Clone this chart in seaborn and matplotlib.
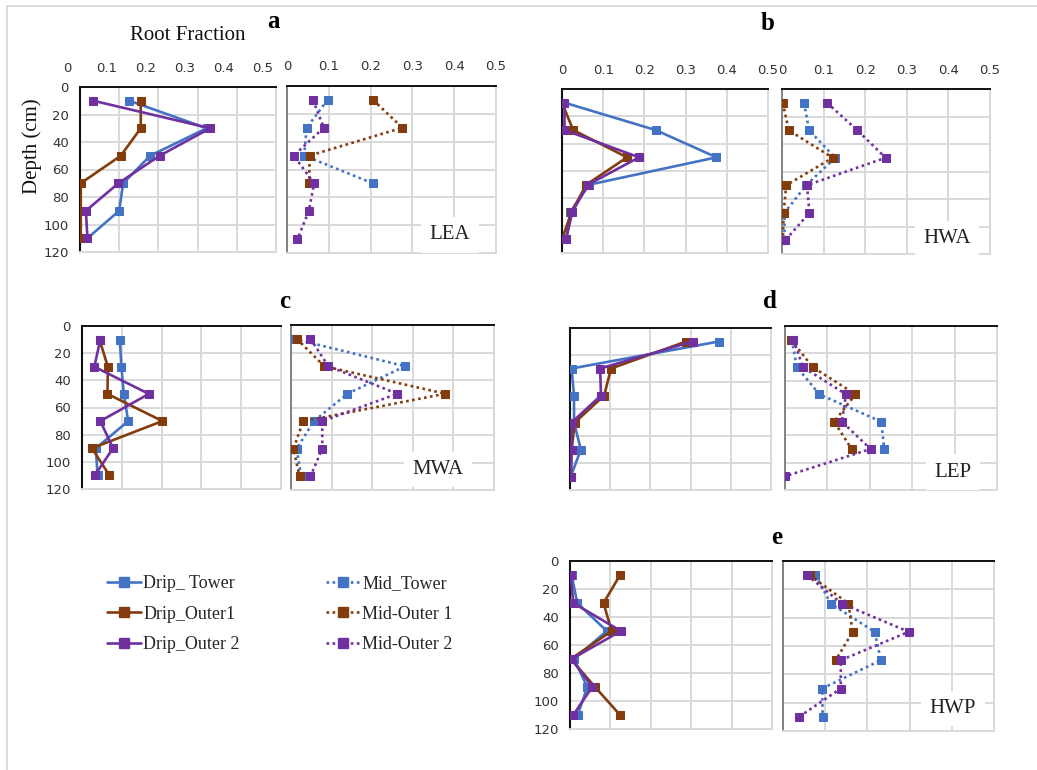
import matplotlib
matplotlib.use("Agg")
import matplotlib.pyplot as plt
import matplotlib.transforms as mtransforms
from matplotlib.lines import Line2D
import seaborn as sns
import pandas as pd

# ---------------- data ----------------
DEPTH = [10, 30, 50, 70, 90, 110]
XTICKS = [0, 0.1, 0.2, 0.3, 0.4, 0.5]
XTICKLABELS = ["0", "0.1", "0.2", "0.3", "0.4", "0.5"]
YTICKS = [0, 20, 40, 60, 80, 100, 120]

DRIP_NAMES = ["Drip_ Tower", "Drip_Outer1", "Drip_Outer 2"]
MID_NAMES = ["Mid_Tower", "Mid-Outer 1", "Mid-Outer 2"]
COLORS = ["#4472C4", "#843C0C", "#7030A0"]

LEA_DRIP = {"Drip_ Tower": [0.126, 0.323, 0.179, 0.110, 0.100, 0.019],
            "Drip_Outer1": [0.155, 0.155, 0.104, 0.002, 0.002, 0.002],
            "Drip_Outer 2": [0.034, 0.332, 0.203, 0.098, 0.015, 0.019]}
LEA_MID = {"Mid_Tower": [0.097, 0.047, 0.041, 0.206],
           "Mid-Outer 1": [0.206, 0.276, 0.054, 0.053],
           "Mid-Outer 2": [0.062, 0.088, 0.016, 0.065, 0.052, 0.025]}

HWA_DRIP = {"Drip_ Tower": [0.006, 0.227, 0.375, 0.066, 0.020, 0.010],
            "Drip_Outer1": [0.000, 0.027, 0.158, 0.059, 0.023, 0.000],
            "Drip_Outer 2": [0.006, 0.006, 0.187, 0.063, 0.025, 0.010]}
HWA_MID = {"Mid_Tower": [0.053, 0.065, 0.128, 0.058, 0.006, 0.006],
           "Mid-Outer 1": [0.002, 0.016, 0.122, 0.010, 0.004, 0.002],
           "Mid-Outer 2": [0.108, 0.181, 0.249, 0.060, 0.066, 0.008]}

MWA_DRIP = {"Drip_ Tower": [0.095, 0.099, 0.105, 0.116, 0.035, 0.039],
            "Drip_Outer1": [0.044, 0.065, 0.064, 0.202, 0.025, 0.069],
            "Drip_Outer 2": [0.046, 0.031, 0.168, 0.046, 0.078, 0.032]}
MWA_MID = {"Mid_Tower": [0.007, 0.281, 0.139, 0.056, 0.014, 0.025],
           "Mid-Outer 1": [0.014, 0.082, 0.380, 0.030, 0.006, 0.021],
           "Mid-Outer 2": [0.048, 0.092, 0.262, 0.077, 0.077, 0.048]}

LEP_DRIP = {"Drip_ Tower": [0.370, 0.004, 0.010, 0.010, 0.027, 0.002],
            "Drip_Outer1": [0.289, 0.102, 0.085, 0.012, 0.004, 0.002],
            "Drip_Outer 2": [0.305, 0.075, 0.077, 0.004, 0.004, 0.002]}
LEP_MID = {"Mid_Tower": [0.016, 0.028, 0.081, 0.227, 0.234],
           "Mid-Outer 1": [0.014, 0.065, 0.166, 0.116, 0.157],
           "Mid-Outer 2": [0.020, 0.042, 0.144, 0.134, 0.202, 0.000]}

HWP_DRIP = {"Drip_ Tower": [0.004, 0.018, 0.091, 0.010, 0.043, 0.019],
            "Drip_Outer1": [0.124, 0.083, 0.103, 0.002, 0.062, 0.124],
            "Drip_Outer 2": [0.002, 0.008, 0.126, 0.004, 0.055, 0.008]}
HWP_MID = {"Mid_Tower": [0.077, 0.113, 0.217, 0.232, 0.093, 0.094],
           "Mid-Outer 1": [0.063, 0.155, 0.165, 0.125],
           "Mid-Outer 2": [0.057, 0.139, 0.298, 0.137, 0.137, 0.038]}

# ---------------- style ----------------
sns.set_style("white")
plt.rcParams["font.family"] = ["DejaVu Sans"]
SERIF = ["Liberation Serif", "DejaVu Serif"]

W, H = 1037, 770
fig = plt.figure(figsize=(W / 100, H / 100), dpi=100)


def px(x, y):
    return x / W, 1 - y / H


def add_ax(x0, y0, x1, y1):
    return fig.add_axes([x0 / W, 1 - y1 / H, (x1 - x0) / W, (y1 - y0) / H])


def draw(ax, data, names, dotted):
    for name, color in zip(names, COLORS):
        vals = data[name]
        df = pd.DataFrame({"frac": vals, "depth": DEPTH[:len(vals)]})
        sns.lineplot(data=df, x="frac", y="depth", ax=ax, color=color,
                     marker="s", markersize=6, markeredgecolor=color,
                     linewidth=1.9, linestyle=(0, (1, 1.3)) if dotted else "-",
                     sort=False, estimator=None, legend=False, zorder=3)


def style(ax, xlab, ylab, drip, xoff=0):
    ax.set_xlim(0, 0.5)
    ax.set_ylim(120, 0)
    ax.set_xticks(XTICKS)
    ax.set_xticklabels(XTICKLABELS)
    ax.set_yticks(YTICKS)
    ax.set_xlabel("")
    ax.set_ylabel("")
    ax.grid(True, color="#d9d9d9", lw=1.4)
    ax.set_axisbelow(True)
    ax.xaxis.tick_top()
    ax.tick_params(length=0, labelsize=9.5, colors="#333333")
    ax.tick_params(axis="x", pad=9, labeltop=xlab, labelbottom=False)
    ax.tick_params(axis="y", pad=8, labelleft=ylab)
    ax.spines["top"].set_color("#111111")
    ax.spines["top"].set_linewidth(1.4)
    ax.spines["left"].set_color("#111111" if drip else "#707070")
    ax.spines["left"].set_linewidth(1.5 if drip else 1.2)
    for s in ("right", "bottom"):
        ax.spines[s].set_color("#d9d9d9")
        ax.spines[s].set_linewidth(1.4)
    if xoff:
        off = mtransforms.ScaledTranslation(xoff / 100, 0, fig.dpi_scale_trans)
        for lab in ax.get_xticklabels():
            lab.set_transform(lab.get_transform() + off)


def site_label(ax, text, x, y):
    ax.text(x, y, text, ha="center", va="center", fontsize=15,
            family=SERIF, color="#222222", zorder=4,
            bbox=dict(facecolor="white", edgecolor="none", pad=6))


panels = [
    (LEA_DRIP, LEA_MID, "LEA", (80, 87, 276, 252), (287, 86, 496, 253), True, True, -13, (0.39, 107)),
    (HWA_DRIP, HWA_MID, "HWA", (562, 89, 768, 253), (782, 89, 990, 254), True, False, 0, (0.397, 109)),
    (MWA_DRIP, MWA_MID, "MWA", (82, 326, 281, 489), (291, 325, 494, 490), False, True, 0, (0.362, 105)),
    (LEP_DRIP, LEP_MID, "LEP", (570, 328, 771, 490), (785, 326, 997, 490), False, False, 0, (0.396, 107)),
    (HWP_DRIP, HWP_MID, "HWP", (570, 561, 772, 729), (783, 561, 994, 731), False, True, 0, (0.403, 104)),
]

for drip, mid, lab, bd, bm, xl, yl, xoff, lpos in panels:
    ax1 = add_ax(*bd)
    draw(ax1, drip, DRIP_NAMES, False)
    style(ax1, xl, yl, True, xoff)
    ax2 = add_ax(*bm)
    draw(ax2, mid, MID_NAMES, True)
    style(ax2, xl, False, False)
    site_label(ax2, lab, *lpos)

# titles and panel letters
fig.text(*px(188, 36), "Root Fraction", ha="center", va="center",
         fontsize=15, family=SERIF, color="#111111")
fig.text(*px(32, 146), "Depth (cm)", ha="center", va="center", rotation=90,
         fontsize=15, family=SERIF, color="#111111")
for letter, (x, y) in {"a": (274, 21), "b": (768, 24), "c": (285, 302),
                       "d": (770, 302), "e": (777, 537)}.items():
    fig.text(*px(x, y), letter, ha="center", va="center", fontsize=18,
             fontweight="bold", family=SERIF, color="black")

# frame lines
fig.add_artist(Line2D([7 / W, 1], [1 - 6 / H, 1 - 6 / H], color="#d4d4d4", lw=1.2))
fig.add_artist(Line2D([7 / W, 7 / W], [0, 1 - 6 / H], color="#d4d4d4", lw=1.2))

# legend
handles = []
for c in COLORS:
    handles.append(Line2D([], [], color=c, marker="s", markersize=6.5, lw=1.9, ls="-"))
for c in COLORS:
    handles.append(Line2D([], [], color=c, marker="s", markersize=6.5, lw=1.9,
                          ls=(0, (1, 1.3))))
fig.legend(handles, DRIP_NAMES + MID_NAMES, ncol=2, loc="upper left",
           bbox_to_anchor=px(107, 575), frameon=False,
           prop={"family": SERIF, "size": 13}, handlelength=1.9,
           handletextpad=0.1, columnspacing=4.8, labelspacing=0.75,
           borderaxespad=0, borderpad=0)

fig.savefig("out.png", dpi=100, facecolor="white")
